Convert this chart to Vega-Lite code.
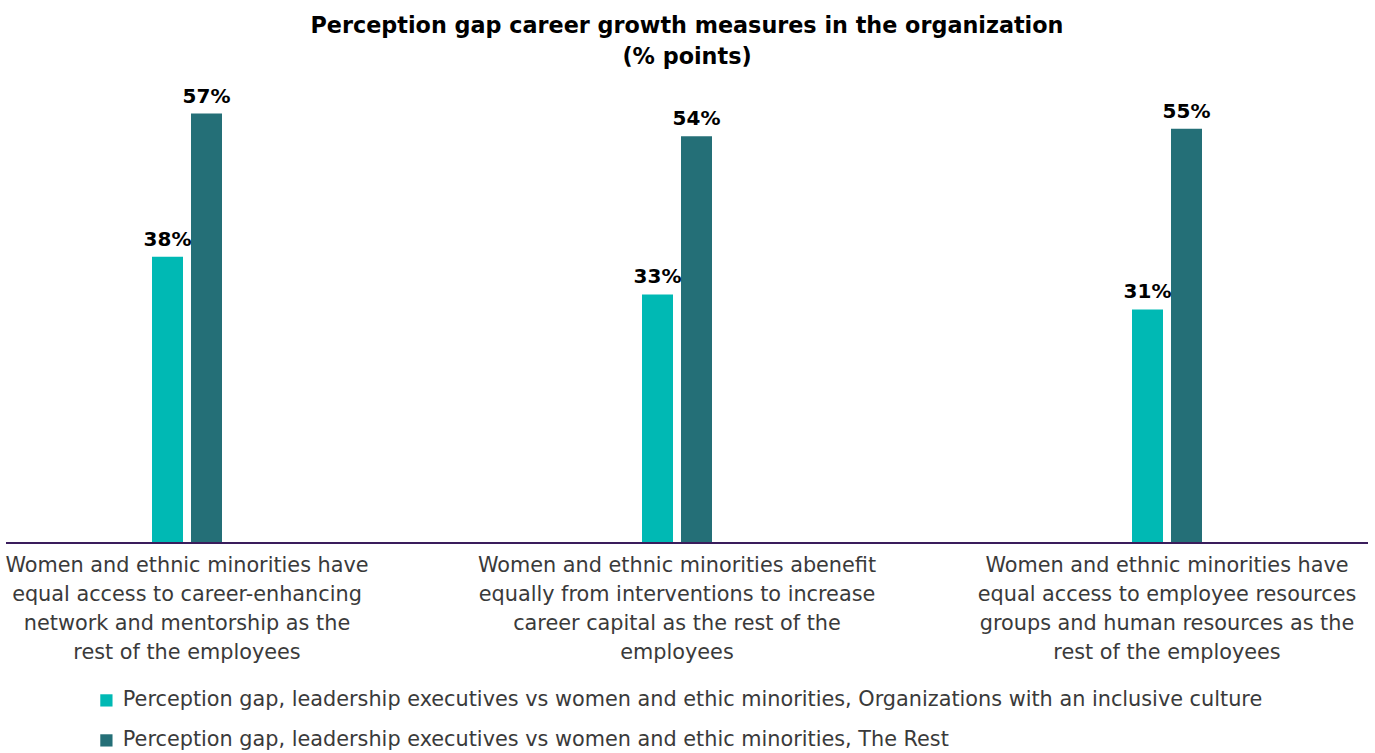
{
  "$schema": "https://vega.github.io/schema/vega-lite/v6.json",
  "autosize": {"type": "none"},
  "width": 1362,
  "height": 452,
  "padding": {"left": 6, "top": 91, "right": 7, "bottom": 210},
  "background": "white",
  "title": {
    "text": ["Perception gap career growth measures in the organization", "(% points)"],
    "font": "DejaVu Sans",
    "fontSize": 22.3,
    "fontWeight": "bold",
    "color": "#000000",
    "lineHeight": 31,
    "offset": 18,
    "anchor": "middle"
  },
  "config": {
    "view": {"stroke": null},
    "font": "DejaVu Sans"
  },
  "data": {
    "values": [
      {"measure": "Women and ethnic minorities have|equal access to career-enhancing|network and mentorship as the|rest of the employees", "series": "Perception gap, leadership executives vs women and ethic minorities, Organizations with an inclusive culture", "value": 38},
      {"measure": "Women and ethnic minorities have|equal access to career-enhancing|network and mentorship as the|rest of the employees", "series": "Perception gap, leadership executives vs women and ethic minorities, The Rest", "value": 57},
      {"measure": "Women and ethnic minorities abenefit|equally from interventions to increase|career capital as the rest of the|employees", "series": "Perception gap, leadership executives vs women and ethic minorities, Organizations with an inclusive culture", "value": 33},
      {"measure": "Women and ethnic minorities abenefit|equally from interventions to increase|career capital as the rest of the|employees", "series": "Perception gap, leadership executives vs women and ethic minorities, The Rest", "value": 54},
      {"measure": "Women and ethnic minorities have|equal access to employee resources|groups and human resources as the|rest of the employees", "series": "Perception gap, leadership executives vs women and ethic minorities, Organizations with an inclusive culture", "value": 31},
      {"measure": "Women and ethnic minorities have|equal access to employee resources|groups and human resources as the|rest of the employees", "series": "Perception gap, leadership executives vs women and ethic minorities, The Rest", "value": 55}
    ]
  },
  "encoding": {
    "x": {
      "field": "measure",
      "type": "nominal",
      "sort": null,
      "scale": {"range": [-64, 1406], "paddingInner": 0, "paddingOuter": 0},
      "axis": {
        "title": null,
        "domain": false,
        "ticks": false,
        "labelAngle": 0,
        "labelExpr": "split(datum.label, '|')",
        "labelFont": "DejaVu Sans",
        "labelFontSize": 20.8,
        "labelFontWeight": "normal",
        "labelColor": "#3a3a3a",
        "labelLineHeight": 29,
        "labelPadding": 12,
        "labelLimit": 0
      }
    },
    "xOffset": {
      "field": "series",
      "type": "nominal",
      "scale": {"range": [210, 280], "paddingInner": 0.205, "paddingOuter": 0}
    },
    "y": {
      "field": "value",
      "type": "quantitative",
      "scale": {"domain": [0, 60]},
      "axis": null
    }
  },
  "layer": [
    {
      "mark": {"type": "bar"},
      "encoding": {
        "color": {
          "field": "series",
          "type": "nominal",
          "scale": {"range": ["#00B9B4", "#246F77"]},
          "legend": {
            "title": null,
            "orient": "none",
            "legendX": 90,
            "legendY": 599,
            "direction": "vertical",
            "symbolType": "square",
            "symbolSize": 150,
            "symbolStrokeWidth": 0,
            "labelFont": "DejaVu Sans",
            "labelFontSize": 20.8,
            "labelColor": "#3a3a3a",
            "labelLimit": 0,
            "rowPadding": 18,
            "labelOffset": 6
          }
        }
      }
    },
    {
      "transform": [{"calculate": "datum.value + '%'", "as": "label"}],
      "mark": {"type": "text", "dy": -7, "baseline": "bottom", "fontSize": 20, "fontWeight": "bold", "color": "#000000", "font": "DejaVu Sans"},
      "encoding": {
        "text": {"field": "label", "type": "nominal"}
      }
    },
    {
      "mark": {"type": "rule", "color": "#3B1E5C", "strokeWidth": 1.5},
      "encoding": {"y": {"datum": 0}, "xOffset": null, "x": null}
    }
  ]
}
